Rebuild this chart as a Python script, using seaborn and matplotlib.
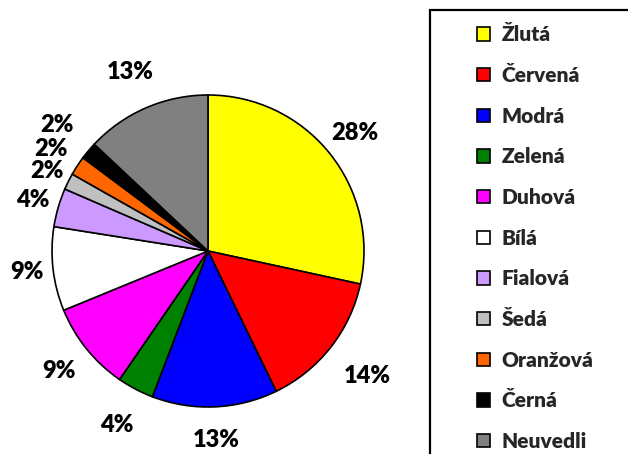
import matplotlib
matplotlib.use("Agg")
import matplotlib.pyplot as plt
import seaborn as sns
import numpy as np
from matplotlib.patches import Rectangle

sns.set_theme(style="white")
FAM = "Lato"
WT = "heavy"
plt.rcParams['font.family'] = [FAM, 'DejaVu Sans']
plt.rcParams['font.weight'] = WT

categories = ["Žlutá", "Červená", "Modrá", "Zelená", "Duhová", "Bílá",
              "Fialová", "Šedá", "Oranžová", "Černá", "Neuvedli"]
values = [28.4, 14.4, 13.0, 3.8, 9.2, 8.7, 4.0, 1.7, 2.0, 1.8, 13.0]
colors = ["#FFFF00", "#FF0000", "#0000FF", "#008000", "#FF00FF", "#FFFFFF",
          "#CC99FF", "#C0C0C0", "#FF6600", "#000000", "#808080"]

W, H = 628, 454
fig = plt.figure(figsize=(W / 100, H / 100), dpi=100)
cx, cy, r = 208, 251, 156
ax = fig.add_axes([(cx - r) / W, (H - cy - r) / H, 2 * r / W, 2 * r / H])

wedges, texts, autotexts = ax.pie(
    values, colors=colors, startangle=90, counterclock=False,
    autopct=lambda p: f"{round(p):d}%", pctdistance=1.22,
    wedgeprops=dict(edgecolor="black", linewidth=1.2),
    textprops=dict(fontsize=17, fontweight=WT, color="black"),
)
# label distance tweaks (relative to radius) to follow the reference layout
dist = [1.21, 1.30, 1.21, 1.26, 1.23, 1.17, 1.17, 1.15, 1.20, 1.26, 1.25]
for w, t, d in zip(wedges, autotexts, dist):
    ang = np.deg2rad((w.theta1 + w.theta2) / 2)
    t.set_position((d * np.cos(ang), d * np.sin(ang)))

ax.set_xlim(-1, 1)
ax.set_ylim(-1, 1)
ax.set_aspect("equal")
ax.axis("off")

leg = fig.legend(
    wedges, categories, loc="upper left",
    bbox_to_anchor=(469 / W, 1 - 17 / H), frameon=False,
    prop=dict(family=[FAM, "DejaVu Sans"], weight=WT, size=15),
    handlelength=0.61, handleheight=0.61, handletextpad=0.56,
    labelspacing=1.04, borderaxespad=0,
)

fig.patches.append(Rectangle((430 / W, -0.1), 1.0, (H - 10) / H + 0.1,
                             transform=fig.transFigure, fill=False,
                             edgecolor="black", linewidth=1.6))

fig.savefig("out.png", dpi=100, facecolor="white")
